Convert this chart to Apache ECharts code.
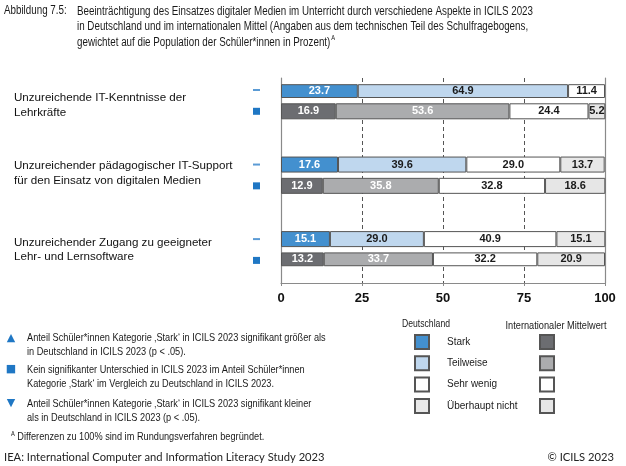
<!DOCTYPE html>
<html><head><meta charset="utf-8">
<script src="https://cdn.jsdelivr.net/npm/echarts@6/dist/echarts.min.js"></script>
<style>html,body{margin:0;padding:0;background:#fff}#c{width:626px;height:466px}</style>
</head><body><div id="c"></div>
<script>
// ---- data ----
const groupLabels = ['Unzureichende IT-Kenntnisse der\nLehrkräfte', 'Unzureichender pädagogischer IT-Support\nfür den Einsatz von digitalen Medien', 'Unzureichender Zugang zu geeigneter\nLehr- und Lernsoftware'];
const levels = ['Stark', 'Teilweise', 'Sehr wenig', 'Überhaupt nicht'];
const deStark = [23.7, 17.6, 15.1];
const deTeilweise = [64.9, 39.6, 29.0];
const deSehrWenig = [11.4, 29.0, 40.9];
const deUeberhaupt = [null, 13.7, 15.1];
const intStark = [16.9, 12.9, 13.2];
const intTeilweise = [53.6, 35.8, 33.7];
const intSehrWenig = [24.4, 32.8, 32.2];
const intUeberhaupt = [5.2, 18.6, 20.9];
const xTicks = [0, 25, 50, 75, 100];

// slot layout of the category axis (Germany row, international row, spacer rows)
const slots = ['g0','s','i0','s','s','s','s','g1','s','i1','s','s','s','s','g2','s','i2'].map((v,k)=>v==='s'?'s'+k:v);
function place(arr, prefix){
  return slots.map(id => {
    if (id[0] !== prefix) return '-';
    const v = arr[+id.slice(1)];
    return v == null ? '-' : v;
  });
}
const SANS = '"Liberation Sans", Arial, sans-serif';
const deColors = ['#4390cf', '#bfd7ee', '#ffffff', '#e8e8e8'];
const intColors = ['#6c6d71', '#abacae', '#ffffff', '#e6e6e6'];
const deLabel = ['#ffffff', '#1a1a1a', '#1a1a1a', '#1a1a1a'];
const intLabel = ['#ffffff', '#ffffff', '#1a1a1a', '#1a1a1a'];
const deData = [deStark, deTeilweise, deSehrWenig, deUeberhaupt];
const intData = [intStark, intTeilweise, intSehrWenig, intUeberhaupt];
const intNames = levels.map(l => l + ' (International)');

function mkSeries(name, data, color, lcolor){
  return {
    name, type: 'bar', stack: 'all', xAxisIndex: 0, yAxisIndex: 0,
    barWidth: 16, data,
    itemStyle: { color, borderColor: '#555', borderWidth: 1 },
    label: { show: true, position: 'inside', color: lcolor,
      fontFamily: SANS, fontWeight: 'bold', fontSize: 11,
      formatter: p => (+p.value).toFixed(1) },
    emphasis: { disabled: true }
  };
}
const series = [];
levels.forEach((l, k) => series.push(mkSeries(l, place(deData[k], 'g'), deColors[k], deLabel[k])));
levels.forEach((l, k) => series.push(mkSeries(intNames[k], place(intData[k], 'i'), intColors[k], intLabel[k])));

// condensed text: Liberation Sans squeezed horizontally (no narrow font installed)
const mctx = document.createElement('canvas').getContext('2d');
function tw(t, font){ mctx.font = font; return mctx.measureText(t).width; }
const titleLine1 = 'Beeinträchtigung des Einsatzes digitaler Medien im Unterricht durch verschiedene Aspekte in ICILS 2023';
const SQ = 456 / tw(titleLine1, '12px ' + SANS);
function nt(text, x, y, target, measureLine, o){
  const size = target == null ? 12 : 12 * target / (tw(measureLine, '12px ' + SANS) * SQ);
  return { type: 'text', x, y, scaleX: SQ, silent: true,
    style: Object.assign({ text, font: size.toFixed(2) + 'px ' + SANS, fill: '#1a1a1a', textVerticalAlign: 'middle' }, o || {}) };
}
const txt = (text, x, y, o) => ({ type: 'text', x, y, silent: true,
  style: Object.assign({ text, font: '12px ' + SANS, fill: '#1a1a1a', textVerticalAlign: 'middle' }, o || {}) });

const foot1 = 'Anteil Schüler*innen Kategorie ‚Stark‘ in ICILS 2023 signifikant größer als';
const foot2 = 'Kein signifikanter Unterschied in ICILS 2023 im Anteil Schüler*innen';
const foot3 = 'Anteil Schüler*innen Kategorie ‚Stark‘ in ICILS 2023 signifikant kleiner';
const footA = 'Differenzen zu 100% sind im Rundungsverfahren begründet.';

const option = {
  animation: false,
  grid: [
    { left: 281, right: 21, top: 84.675, height: 181.05, containLabel: false },
    { left: 281, right: 21, top: 78, bottom: 183, containLabel: false }
  ],
  xAxis: [
    { gridIndex: 0, type: 'value', min: 0, max: 100, show: false },
    { gridIndex: 1, type: 'value', min: 0, max: 100, interval: 25,
      axisLine: { show: true, lineStyle: { color: '#8a8a8a', width: 1.2 } },
      axisTick: { show: true, length: 3, lineStyle: { color: '#8a8a8a' } },
      axisLabel: { margin: 9, color: '#111', fontWeight: 'bold', fontSize: 13, fontFamily: SANS,
        formatter: v => xTicks.includes(v) ? String(v) : '' },
      splitLine: { show: true, showMinLine: false, showMaxLine: false, lineStyle: { color: '#555', type: [4, 3], width: 1 } } }
  ],
  yAxis: [
    { gridIndex: 0, type: 'category', inverse: true, data: slots,
      axisLine: { show: false }, axisTick: { show: false }, splitLine: { show: false },
      axisLabel: { interval: 0, margin: 21,
        formatter: id => id[0] === 'g' ? '{dash|}' : (id[0] === 'i' ? '{sq|}' : ''),
        rich: { dash: { backgroundColor: '#5b9bd5', width: 7, height: 2 },
                sq: { backgroundColor: '#1f77c4', width: 7, height: 7 } } } },
    { gridIndex: 1, type: 'value', position: 'left', min: 0, max: 1,
      axisLine: { show: true, lineStyle: { color: '#8a8a8a', width: 1.2 } },
      axisTick: { show: false }, axisLabel: { show: false }, splitLine: { show: false } },
    { gridIndex: 1, type: 'value', position: 'right', min: 0, max: 1,
      axisLine: { show: true, lineStyle: { color: '#8a8a8a', width: 1.2 } },
      axisTick: { show: false }, axisLabel: { show: false }, splitLine: { show: false } }
  ],
  legend: [
    { data: levels, orient: 'vertical', left: 414, top: 334, padding: 0, itemWidth: 14, itemHeight: 14, itemGap: 5.3,
      icon: 'rect', selectedMode: false,
      textStyle: { fontFamily: SANS, fontSize: 10, color: '#1a1a1a', padding: [0, 0, 0, 13] } },
    { data: intNames, orient: 'vertical', left: 539, top: 334, padding: 0, itemWidth: 14, itemHeight: 14, itemGap: 5.3,
      icon: 'rect', selectedMode: false, formatter: () => '',
      textStyle: { fontFamily: SANS, fontSize: 10 } }
  ],
  series,
  graphic: [
    nt('Abbildung 7.5:', 4, 11, null, null),
    nt(titleLine1 + '\nin Deutschland und im internationalen Mittel (Angaben aus dem technischen Teil des Schulfragebogens,\ngewichtet auf die Population der Schüler*innen in Prozent){sup|A}',
      77, 3.5, null, null, { lineHeight: 15.5, textVerticalAlign: 'top',
      rich: { sup: { fontSize: 7, verticalAlign: 'top', padding: [0, 0, 5, 1], fontFamily: SANS } } }),
    txt(groupLabels[0], 14, 91, { font: '11.6px ' + SANS, lineHeight: 14.5, textVerticalAlign: 'top', fill: '#111' }),
    txt(groupLabels[1], 14, 158.8, { font: '11.6px ' + SANS, lineHeight: 14.5, textVerticalAlign: 'top', fill: '#111' }),
    txt(groupLabels[2], 14, 235.5, { font: '11.6px ' + SANS, lineHeight: 14.5, textVerticalAlign: 'top', fill: '#111' }),
    nt('Deutschland', 426, 324, 48, 'Deutschland', { textAlign: 'center' }),
    nt('Internationaler Mittelwert', 556, 325.5, 101, 'Internationaler Mittelwert', { textAlign: 'center' }),
    txt('▲', 11, 338, { font: '11px "DejaVu Sans"', fill: '#1f77c4', textAlign: 'center' }),
    nt(foot1 + '\nin Deutschland in ICILS 2023 (p < .05).', 27, 331.5, 299, foot1, { textVerticalAlign: 'top', lineHeight: 13.5 }),
    txt('■', 11, 369, { font: '11px "DejaVu Sans"', fill: '#1f77c4', textAlign: 'center' }),
    nt(foot2 + '\nKategorie ‚Stark‘ im Vergleich zu Deutschland in ICILS 2023.', 27, 363.5, 299, foot1, { textVerticalAlign: 'top', lineHeight: 13.5 }),
    txt('▼', 11, 403, { font: '11px "DejaVu Sans"', fill: '#1f77c4', textAlign: 'center' }),
    nt(foot3 + '\nals in Deutschland in ICILS 2023 (p < .05).', 27, 397.5, 299, foot1, { textVerticalAlign: 'top', lineHeight: 13.5 }),
    nt('{sup|A} ' + footA, 11, 437, 299, foot1, {
      rich: { sup: { fontSize: 7, verticalAlign: 'top', padding: [0, 0, 5, 0], fontFamily: SANS } } }),
    txt('IEA: International Computer and Information Literacy Study 2023', 4, 457, { font: '11.2px Lato, sans-serif', fill: '#222' }),
    txt('© ICILS 2023', 614, 457, { font: '11.2px Lato, sans-serif', fill: '#222', textAlign: 'right' })
  ]
};
const chart = echarts.init(document.getElementById('c'), null, { renderer: 'canvas' });
chart.setOption(option);
</script></body></html>
